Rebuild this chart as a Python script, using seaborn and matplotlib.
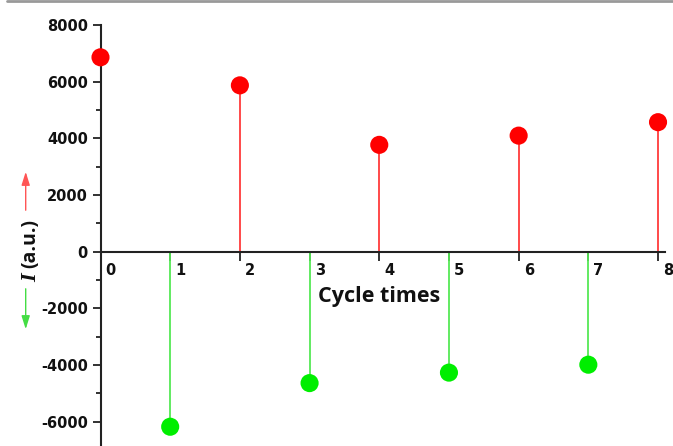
import numpy as np
import pandas as pd
import seaborn as sns
import matplotlib
matplotlib.use("Agg")
import matplotlib.pyplot as plt
from matplotlib.lines import Line2D
from matplotlib.transforms import ScaledTranslation
from matplotlib.ticker import MultipleLocator

# ---- data ----
cycles = [0, 1, 2, 3, 4, 5, 6, 7, 8]
intensity = [6860, -6180, 5870, -4640, 3770, -4270, 4095, -3990, 4570]
kinds = ["up", "down", "up", "down", "up", "down", "up", "down", "up"]
x_tick_labels = ["0", "1", "2", "3", "4", "5", "6", "7", "8"]
y_ticks = [-6000, -4000, -2000, 0, 2000, 4000, 6000, 8000]

df = pd.DataFrame({"cycle": cycles, "I": intensity, "kind": kinds})

sns.set_theme(style="white")
plt.rcParams["font.family"] = ["Open Sans", "DejaVu Sans"]

W, H = 673, 446
fig = plt.figure(figsize=(W / 100, H / 100), dpi=100)
ax = fig.add_axes([100.5 / W, 0.0, 564.5 / W, (H - 25) / H])

stem_cols = {"up": "#ff3b3b", "down": "#55e855"}
for k, g in df.groupby("kind"):
    ax.vlines(g["cycle"], 0, g["I"], colors=stem_cols[k], lw=1.3, zorder=2, clip_on=False)

sns.scatterplot(data=df, x="cycle", y="I", hue="kind",
                palette={"up": "#ff0000", "down": "#00ee00"},
                s=170, edgecolor="none", legend=False, ax=ax, zorder=3, clip_on=False)

ax.set_xlim(0, 8.1)
ax.set_ylim(-6860, 8000)

for s in ["top", "right"]:
    ax.spines[s].set_visible(False)
ax.spines["bottom"].set_position(("data", 0))
for s in ["left", "bottom"]:
    ax.spines[s].set_color("#222222")
    ax.spines[s].set_linewidth(1.5)

ax.set_xticks(cycles)
ax.set_xticklabels(x_tick_labels)
ax.xaxis.set_minor_locator(MultipleLocator(0.5))
ax.set_yticks(y_ticks)
ax.set_yticklabels([str(v) for v in y_ticks])
ax.yaxis.set_minor_locator(MultipleLocator(1000))

ax.tick_params(axis="x", which="major", direction="out", length=6.5, width=1.3,
               color="#222222", pad=2, labelsize=10.5)
ax.tick_params(axis="x", which="minor", direction="out", length=3.5, width=1.3, color="#222222")
ax.tick_params(axis="y", which="major", direction="out", length=6, width=1.3,
               color="#222222", pad=3, labelsize=10.5, left=True)
ax.tick_params(axis="y", which="minor", direction="out", length=3.5, width=1.3,
               color="#222222", left=True)
ax.tick_params(axis="x", bottom=True)

off = ScaledTranslation(5 / 100, 0, fig.dpi_scale_trans)
for lab in ax.get_xticklabels():
    lab.set_horizontalalignment("left")
    lab.set_transform(lab.get_transform() + off)
    lab.set_fontweight("bold")
    lab.set_family(["DejaVu Sans"])
    lab.set_color("#111111")
for lab in ax.get_yticklabels():
    lab.set_fontweight("bold")
    lab.set_family(["DejaVu Sans"])
    lab.set_color("#111111")

ax.set_xlabel("")
ax.set_ylabel("")
ax.text(4.0, -1600, "Cycle times", ha="center", va="center",
        fontsize=15.5, fontweight="bold", color="#111111")

# y label: italic I + (a.u.)
fig.text(31 / W, 1 - 278 / H, "I", rotation=90, ha="center", va="center",
         fontsize=16, fontweight="bold", fontstyle="italic",
         family=["Liberation Serif", "DejaVu Serif"], color="#111111")
fig.text(30 / W, 1 - 244 / H, "(a.u.)", rotation=90, ha="center", va="center",
         fontsize=14, fontweight="bold", color="#111111")

ax_x = 25.7 / W
fig.add_artist(matplotlib.patches.FancyArrowPatch(
    (ax_x, 1 - 213 / H), (ax_x, 1 - 169 / H), transform=fig.transFigure,
    arrowstyle="-|>,head_length=0.8,head_width=0.25", mutation_scale=10,
    color="#ff5555", lw=1.0))
fig.add_artist(matplotlib.patches.FancyArrowPatch(
    (ax_x, 1 - 286 / H), (ax_x, 1 - 332 / H), transform=fig.transFigure,
    arrowstyle="-|>,head_length=0.8,head_width=0.25", mutation_scale=10,
    color="#44dd44", lw=1.0))

# top border line
fig.add_artist(Line2D([7 / W, 1], [1 - 1 / H, 1 - 1 / H], transform=fig.transFigure,
                      color="#999999", lw=2))

fig.savefig("out.png", dpi=100)
